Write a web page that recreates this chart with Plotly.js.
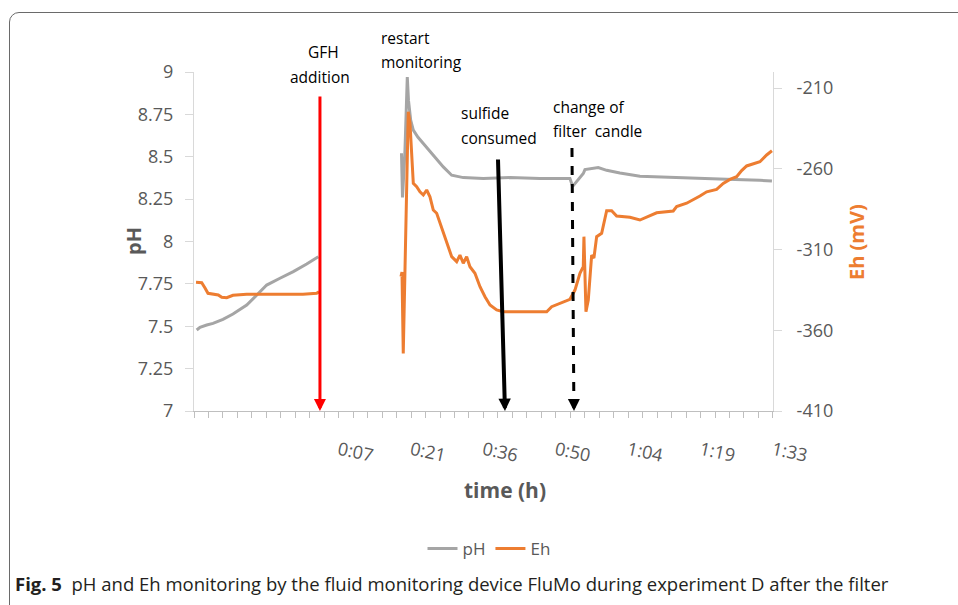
<!DOCTYPE html>
<html>
<head>
<meta charset="utf-8">
<script src="https://cdn.plot.ly/plotly-3.0.1.min.js"></script>
<style>
  html, body { margin: 0; padding: 0; background: #fff; }
  #wrap { position: relative; width: 958px; height: 605px; overflow: hidden; }
  #chart { width: 958px; height: 605px; }
  #frame {
    position: absolute; left: 9px; top: 12px; width: 1200px; height: 900px;
    border: 1.5px solid #6a6a6a; border-radius: 10px; pointer-events: none;
  }
</style>
</head>
<body>
<div id="wrap">
  <div id="chart"></div>
  <div id="frame"></div>
</div>
<script>
// Time axis in minutes; tick labels are the logger's h:mm stamps
const tickTimes = [7, 21.333, 35.667, 50, 64.333, 78.667, 93];
const tickLabels = ['0:07', '0:21', '0:36', '0:50', '1:04', '1:19', '1:33'];

// pH readings (null separates the two recording periods)
const phTime = [-21.14, -20.48, -19.15, -17.91, -15.93, -13.95, -11.23, -9.25, -7.27, -4.64, -2.00, 0.65, 2.95, null,
  19.43, 19.63, 20.12, 20.58, 20.81, 21.25, 21.77, 22.70, 23.75, 25.73,
  27.71, 29.37, 31.67, 35.63, 40.92, 46.86, 52.80, 53.34, 55.44, 55.77,
  57.42, 58.41, 60.07, 62.70, 66.66, 70.63, 77.22, 83.84, 90.43, 92.81];
const phValues = [7.478, 7.494, 7.507, 7.517, 7.541, 7.572, 7.625, 7.684, 7.743, 7.783, 7.822, 7.867, 7.910, null,
  8.521, 8.260, 8.538, 8.970, 8.834, 8.716, 8.657, 8.615, 8.578, 8.509,
  8.440, 8.391, 8.377, 8.371, 8.377, 8.371, 8.371, 8.325, 8.401, 8.424,
  8.430, 8.436, 8.420, 8.404, 8.385, 8.380, 8.375, 8.367, 8.361, 8.357];

// Eh readings in mV
const ehTime = [-21.27, -20.14, -19.49, -18.90, -16.86, -16.18, -15.19, -13.95, -11.23, -0.08, 2.63, 3.09, null,
  19.33, 19.53, 19.78, 20.22, 20.77, 21.11, 21.45, 21.77, 22.44, 23.09,
  23.75, 24.42, 25.07, 25.73, 26.40, 27.05, 27.71, 28.70, 29.37, 30.36,
  31.01, 31.67, 32.34, 32.99, 33.98, 34.98, 35.97, 36.96, 38.28, 39.59,
  48.19, 49.18, 50.82, 52.80, 53.79, 54.78, 55.44, 55.57, 55.97, 56.43,
  57.10, 57.55, 58.09, 59.08, 60.07, 61.06, 62.05, 64.68, 66.66, 67.66,
  68.64, 69.97, 73.26, 73.93, 75.91, 77.22, 78.55, 79.88, 81.85, 83.16,
  84.49, 85.82, 86.81, 87.80, 89.11, 90.43, 91.76, 92.81];
const ehValues = [-330.3, -330.5, -333.8, -337.1, -338.1, -339.6, -339.8, -338.3, -337.7, -337.7, -337.1, -336.1, null,
  -326.8, -323.9, -374.3, -310.3, -224.6, -231.6, -252.5, -269.0, -271.1, -274.2,
  -276.2, -273.1, -277.3, -285.5, -287.5, -293.7, -299.9, -308.2, -314.4, -317.5,
  -313.4, -318.5, -314.4, -320.6, -324.7, -333.0, -339.2, -344.3, -347.4, -348.5,
  -348.5, -345.4, -343.3, -340.8, -335.1, -324.7, -320.6, -302.0, -348.5, -341.2,
  -313.4, -315.2, -302.0, -299.9, -285.9, -285.9, -289.2, -290.0, -291.7, -290.4,
  -289.2, -287.2, -286.1, -283.4, -281.3, -279.3, -276.8, -274.2, -272.7, -269.0,
  -266.5, -264.9, -261.1, -258.2, -257.0, -255.6, -251.4, -248.8];

// pH axis ticks
const phTicks = [7, 7.25, 7.5, 7.75, 8, 8.25, 8.5, 8.75, 9];
const phTickText = ['7', '7.25', '7.5', '7.75', '8', '8.25', '8.5', '8.75', '9'];
// Eh axis ticks (plain hyphen for the sign)
const ehTicks = [-410, -360, -310, -260, -210];
const ehTickText = ['-410', '-360', '-310', '-260', '-210'];

// Events: GFH addition, sulfide consumed, filter candle change (minutes)
const eventTimes = [3.28, 39.93, 53.6];

const FONT = 'Open Sans, Noto Sans, sans-serif';
const GREY = '#595959';
const AXIS = '#D9D9D9';
const PH_COLOR = '#A5A5A5';
const EH_COLOR = '#ED7D31';

// plot area in pixels, used to place free text in paper units
const L = 194, T = 72, W = 579, H = 339;
const px = x => (x - L) / W;
const py = y => (T + H - y) / H;

const traces = [
  { x: phTime, y: phValues, name: 'pH', type: 'scatter', mode: 'lines',
    line: { color: PH_COLOR, width: 3 }, connectgaps: false, yaxis: 'y' },
  { x: ehTime, y: ehValues, name: 'Eh', type: 'scatter', mode: 'lines',
    line: { color: EH_COLOR, width: 3 }, connectgaps: false, yaxis: 'y2' }
];

function label(text, xPix, yPix, anchor) {
  return { text: text, xref: 'paper', yref: 'paper', x: px(xPix), y: py(yPix),
    xanchor: anchor, yanchor: 'middle', showarrow: false,
    font: { family: FONT, size: 15.5, color: '#000' } };
}

const annotations = [
  label('GFH', 323, 52, 'center'),
  label('addition', 320, 77, 'center'),
  label('restart', 379, 38, 'left'),
  label('monitoring', 379, 62, 'left'),
  label('sulfide', 459, 113, 'left'),
  label('consumed', 459, 138, 'left'),
  label('change of', 551, 107, 'left'),
  label('filter\u00a0\u00a0candle', 551, 131, 'left'),
  // event arrows
  { x: eventTimes[0], y: 7.0, xref: 'x', yref: 'y', ax: eventTimes[0], ay: 8.864, axref: 'x', ayref: 'y',
    text: '', showarrow: true, arrowhead: 2, arrowsize: 0.8, arrowwidth: 3, arrowcolor: '#FF0000', standoff: 0 },
  { x: eventTimes[1], y: 7.0, xref: 'x', yref: 'y', ax: 38.54, ay: 8.493, axref: 'x', ayref: 'y',
    text: '', showarrow: true, arrowhead: 2, arrowsize: 0.62, arrowwidth: 4, arrowcolor: '#000', standoff: 0 },
  { x: eventTimes[2], y: 7.0, xref: 'x', yref: 'y', ax: eventTimes[2] - 0.02, ay: 7.07, axref: 'x', ayref: 'y',
    text: '', showarrow: true, arrowhead: 2, arrowsize: 0.8, arrowwidth: 3, arrowcolor: '#000', standoff: 0 },
  // axis titles
  { text: '<b>pH</b>', xref: 'paper', yref: 'paper', x: px(133), y: py(241), textangle: -90,
    showarrow: false, xanchor: 'center', yanchor: 'middle', font: { family: FONT, size: 20, color: GREY } },
  { text: '<b>Eh (mV)</b>', xref: 'paper', yref: 'paper', x: px(856), y: py(242), textangle: -90,
    showarrow: false, xanchor: 'center', yanchor: 'middle', font: { family: FONT, size: 20, color: EH_COLOR } },
  { text: '<b>time (h)</b>', xref: 'paper', yref: 'paper', x: px(505), y: py(490),
    showarrow: false, xanchor: 'center', yanchor: 'middle', font: { family: FONT, size: 21, color: GREY } },
  // figure caption
  { text: '<b>Fig. 5</b>\u00a0\u00a0pH and Eh monitoring by the fluid monitoring device FluMo during experiment D after the filter',
    xref: 'paper', yref: 'paper', x: px(13), y: py(583), xanchor: 'left', yanchor: 'middle',
    showarrow: false, font: { family: FONT, size: 18.5, color: '#231F20' } }
];

const shapes = [
  { type: 'line', xref: 'x', yref: 'y', x0: 53.2, y0: 8.552, x1: eventTimes[2] - 0.03, y1: 7.06,
    line: { color: '#000', width: 3, dash: 'dash' } }
];

const layout = {
  width: 958, height: 605,
  margin: { l: L, r: 958 - L - W, t: T, b: 605 - T - H, pad: 0 },
  paper_bgcolor: '#fff', plot_bgcolor: '#fff',
  font: { family: FONT, color: GREY },
  showlegend: true,
  legend: { orientation: 'h', x: px(489), xanchor: 'center', y: py(549), yanchor: 'middle',
    font: { family: FONT, size: 17, color: GREY }, bgcolor: 'rgba(0,0,0,0)', itemwidth: 30 },
  xaxis: {
    range: [-21.67, 93.02], tickmode: 'array', tickvals: tickTimes, ticktext: tickLabels,
    tickangle: 12, ticks: 'outside', ticklen: 6, tickcolor: '#BFBFBF', tickwidth: 1,
    ticklabelstandoff: 15,
    minor: { tickmode: 'linear', tick0: 7, dtick: 14.3333 / 5, ticks: 'outside', ticklen: 6, tickcolor: '#BFBFBF', showgrid: false },
    showline: true, linecolor: '#BFBFBF', linewidth: 1, showgrid: false, zeroline: false,
    tickfont: { family: FONT, size: 18, color: GREY }
  },
  yaxis: {
    range: [7, 9], tickmode: 'array', tickvals: phTicks, ticktext: phTickText,
    ticks: 'outside', ticklen: 8, tickcolor: AXIS, ticklabelstandoff: 8,
    showline: true, linecolor: AXIS, linewidth: 1, showgrid: false, zeroline: false,
    tickfont: { family: FONT, size: 18, color: GREY }
  },
  yaxis2: {
    range: [-410, -200], overlaying: 'y', side: 'right', tickmode: 'array', tickvals: ehTicks, ticktext: ehTickText,
    ticks: 'outside', ticklen: 8, tickcolor: AXIS, ticklabelstandoff: 11,
    showline: true, linecolor: AXIS, linewidth: 1, showgrid: false, zeroline: false,
    tickfont: { family: FONT, size: 18, color: GREY }
  },
  annotations: annotations,
  shapes: shapes
};

Plotly.newPlot('chart', traces, layout, { staticPlot: true, displayModeBar: false });
</script>
</body>
</html>
